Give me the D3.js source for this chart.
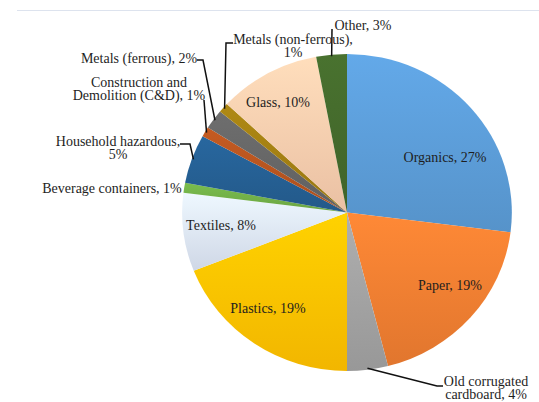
<!DOCTYPE html>
<html>
<head>
<meta charset="utf-8">
<script src="https://cdn.jsdelivr.net/npm/d3@7"></script>
<style>
  body { margin: 0; background: #fff; }
  #chart-area { width: 539px; height: 402px; }
  .label { font-family: "Liberation Serif", "Times New Roman", serif; font-size: 14px; }
</style>
</head>
<body>
<div id="chart-area"></div>
<script>
var width = 539;
var height = 402;

// data (clockwise from 12 o'clock)
var categories = ["Organics", "Paper", "Old corrugated cardboard", "Plastics", "Textiles",
                  "Beverage containers", "Household hazardous", "Construction and Demolition (C&D)",
                  "Metals (ferrous)", "Metals (non-ferrous)", "Glass", "Other"];
var shares = [27, 19, 4, 19, 8, 1, 5, 1, 2, 1, 10, 3];
var colors = ["#5B9BD5", "#ED7D31", "#A0A0A0", "#FFC000", "#DAE3F3", "#70AD47",
              "#255E91", "#B4531F", "#656565", "#A07D12", "#F7CBAC", "#43682B"];

// label text lines, placement and leader bends (layout only)
var labelLines = [
  ["Organics, 27%"], ["Paper, 19%"], ["Old corrugated", "cardboard, 4%"], ["Plastics, 19%"],
  ["Textiles, 8%"], ["Beverage containers, 1%"], ["Household hazardous,", "5%"],
  ["Construction and", "Demolition (C&D), 1%"], ["Metals (ferrous), 2%"],
  ["Metals (non-ferrous),", "1%"], ["Glass, 10%"], ["Other, 3%"]
];
var labelPos = [
  [445, 157], [450, 285], [486, 381], [268, 308], [221, 225], [112, 188], [118, 141],
  [139, 82], [139, 58], [293, 39], [278, 102], [363, 25]
];
var leaderBends = [
  null, null, [[437, 386], [443, 386]], null, null, null, [[190, 144], [180, 144]],
  [[204, 100]], [[203, 60], [197, 60]], [[226, 43], [233, 43]], null, [[332, 29]]
];

var cx = 347, cy = 212.5, r = 158.5, sx = 1.04;

var svg = d3.select("#chart-area").append("svg")
    .attr("width", width)
    .attr("height", height);

svg.append("line")
    .attr("x1", 17).attr("x2", width)
    .attr("y1", 10.5).attr("y2", 10.5)
    .attr("stroke", "#dde3ee")
    .attr("stroke-width", 1);

var defs = svg.append("defs");
colors.forEach(function(c, i) {
  var g = defs.append("linearGradient")
      .attr("id", "grad" + i)
      .attr("x1", 0).attr("y1", 0).attr("x2", 0).attr("y2", 1);
  g.append("stop").attr("offset", "0%").attr("stop-color", d3.color(c).brighter(0.25));
  g.append("stop").attr("offset", "100%").attr("stop-color", d3.color(c).darker(0.15));
});

var pie = d3.pie().sort(null).value(function(d) { return d; });
var arcs = pie(shares);
var arc = d3.arc().innerRadius(0).outerRadius(r);

var pieG = svg.append("g")
    .attr("transform", "translate(" + cx + "," + cy + ") scale(" + sx + ",1)");

pieG.selectAll(".slice")
    .data(arcs)
  .enter().append("path")
    .attr("class", "slice")
    .attr("d", arc)
    .attr("fill", function(d, i) { return "url(#grad" + i + ")"; });

// leader lines from the slice edge
function edgePoint(d, k) {
  var a = (d.startAngle + d.endAngle) / 2;
  return [cx + Math.sin(a) * r * k * sx, cy - Math.cos(a) * r * k];
}

arcs.forEach(function(d, i) {
  if (!leaderBends[i]) return;
  var pts = [edgePoint(d, 0.99)].concat(leaderBends[i]);
  svg.append("path")
      .attr("d", d3.line()(pts))
      .attr("fill", "none")
      .attr("stroke", "#111")
      .attr("stroke-width", 1.5);
});

// labels
var labels = svg.selectAll(".label")
    .data(categories)
  .enter().append("text")
    .attr("class", "label")
    .attr("text-anchor", "middle")
    .style("fill", "#1e1e1e");

labels.each(function(c, i) {
  var t = d3.select(this);
  labelLines[i].forEach(function(line, j) {
    t.append("tspan")
        .attr("x", labelPos[i][0])
        .attr("y", labelPos[i][1] + j * 13.5)
        .attr("dy", "0.35em")
        .text(line);
  });
});
</script>
</body>
</html>
